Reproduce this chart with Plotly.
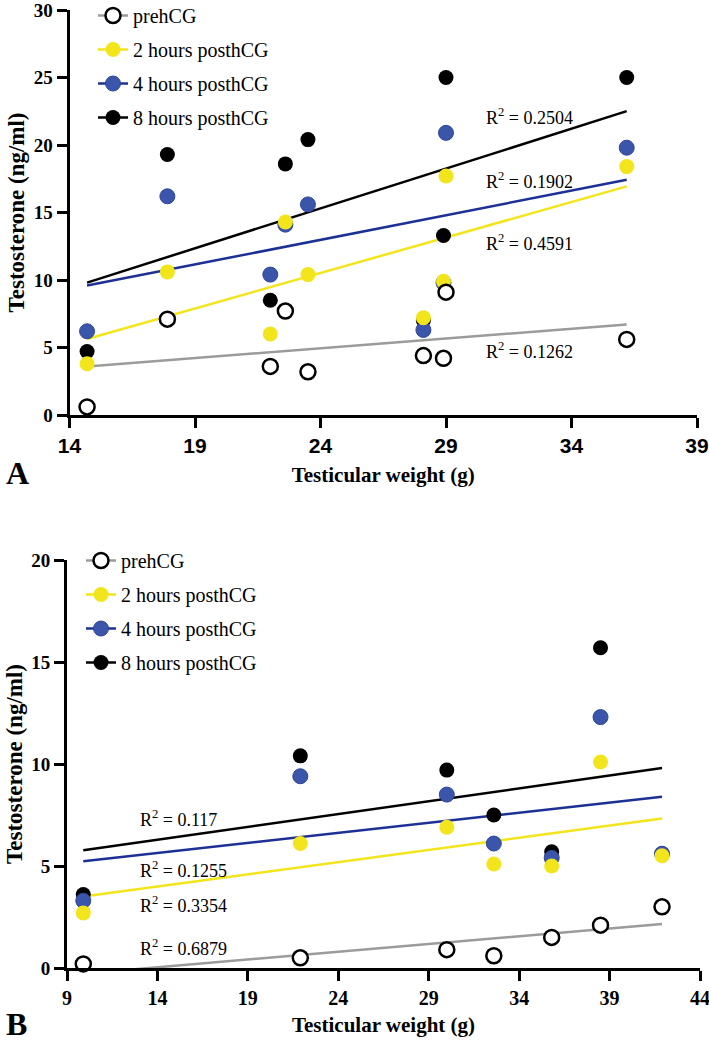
import numpy as np
import plotly.graph_objects as go

# ---------------- data ----------------
series_names = ["prehCG", "2 hours posthCG", "4 hours posthCG", "8 hours posthCG"]

# Panel A
a_weight = [14.7, 17.9, 22.0, 22.6, 23.5, 28.1, 28.9, 29.0, 36.2]
a_pre = [0.6, 7.1, 3.6, 7.7, 3.2, 4.4, 4.2, 9.1, 5.6]
a_h2 = [3.8, 10.6, 6.0, 14.3, 10.4, 7.2, 9.9, 17.7, 18.4]
a_h4 = [6.2, 16.2, 10.4, 14.1, 15.6, 6.3, 9.8, 20.9, 19.8]
a_h8 = [4.7, 19.3, 8.5, 18.6, 20.4, 7.0, 13.3, 25.0, 25.0]
a_r2 = ["0.1262", "0.4591", "0.1902", "0.2504"]

# Panel B
b_weight = [9.9, 21.9, 30.0, 32.6, 35.8, 38.5, 41.9]
b_pre = [0.2, 0.5, 0.9, 0.6, 1.5, 2.1, 3.0]
b_h2 = [2.7, 6.1, 6.9, 5.1, 5.0, 10.1, 5.5]
b_h4 = [3.3, 9.4, 8.5, 6.1, 5.4, 12.3, 5.6]
b_h8 = [3.6, 10.4, 9.7, 7.5, 5.7, 15.7, 5.6]
b_r2 = ["0.6879", "0.3354", "0.1255", "0.117"]

a_xticks = [14, 19, 24, 29, 34, 39]
b_xticks = [9, 14, 19, 24, 29, 34, 39, 44]

# ---------------- styles ----------------
SERIF = "Liberation Serif"
SANS = "Liberation Sans"
marker_fill = ["white", "#F3E51B", "#3A55AA", "black"]
marker_line = ["black", "#F3E51B", "#2E4698", "black"]
marker_lw = [2.5, 0, 1, 0]
fit_color = ["#9B9B9B", "#F3E51B", "#1C3095", "black"]
MS = 15

W, H = 709, 1043


def sx(a):
    return a / W


def sy(t):
    return 1 - t / H


def dom_x(a, b):
    return [sx(a), sx(b)]


def dom_y(top, bottom):
    return [sy(bottom), sy(top)]


fig = go.Figure()


def add_panel(xv, ys, xa, ya, legend, r2_texts, r2_x, r2_y):
    # regression lines (drawn first, below markers)
    for i, y in enumerate(ys):
        slope, icpt = np.polyfit(xv, y, 1)
        xl = np.array([min(xv), max(xv)])
        fig.add_trace(go.Scatter(
            x=xl, y=slope * xl + icpt, mode="lines",
            line=dict(color=fit_color[i], width=2.5),
            xaxis=xa, yaxis=ya, showlegend=False, hoverinfo="skip"))
    # data points: 8h, 4h, 2h, pre (pre on top)
    for i in [3, 2, 1, 0]:
        fig.add_trace(go.Scatter(
            x=xv, y=ys[i], mode="markers",
            marker=dict(size=MS, color=marker_fill[i],
                        line=dict(color=marker_line[i], width=marker_lw[i])),
            xaxis=xa, yaxis=ya, showlegend=False, cliponaxis=False,
            name=series_names[i]))
    # legend entries (line + marker)
    for i in range(4):
        fig.add_trace(go.Scatter(
            x=[None], y=[None], mode="lines+markers", name=series_names[i],
            marker=dict(size=MS, color=marker_fill[i],
                        line=dict(color=marker_line[i], width=marker_lw[i])),
            line=dict(color=fit_color[i], width=2.5),
            xaxis=xa, yaxis=ya, legend=legend, legendgroup=f"{legend}{i}",
            showlegend=True))
    # R^2 labels
    for t, yy in zip(r2_texts, r2_y):
        fig.add_annotation(x=r2_x, y=yy, xref=xa, yref=ya,
                           text=f"R<sup>2</sup> = {t}", showarrow=False,
                           xanchor="left", yanchor="middle",
                           font=dict(family=SERIF, size=18, color="black"))


add_panel(a_weight, [a_pre, a_h2, a_h4, a_h8], "x", "y", "legend",
          a_r2, 30.5, [4.8, 12.8, 17.4, 22.1])
add_panel(b_weight, [b_pre, b_h2, b_h4, b_h8], "x2", "y2", "legend2",
          b_r2, 12.9, [1.0, 3.1, 4.85, 7.35])

axis_common = dict(showline=True, linecolor="black", linewidth=3,
                   ticks="outside", ticklen=10, tickwidth=3, tickcolor="black",
                   showgrid=False, zeroline=False, mirror=False, automargin=False,
                   ticklabeloverflow="allow")

fig.update_layout(
    width=W, height=H,
    margin=dict(l=0, r=0, t=0, b=0, autoexpand=False),
    paper_bgcolor="white", plot_bgcolor="white",
    xaxis=dict(axis_common, domain=dom_x(69.5, 697), range=[14, 39],
               tickvals=a_xticks, anchor="y",
               tickfont=dict(family=SANS, size=21, color="black", weight="bold"),
               title=dict(text="Testicular weight (g)", standoff=12,
                          font=dict(family=SERIF, size=21, color="black", weight="bold"))),
    yaxis=dict(axis_common, domain=dom_y(10, 415), range=[0, 30], dtick=5,
               anchor="x",
               tickfont=dict(family=SERIF, size=19, color="black", weight="bold"),
               title=dict(text="Testosterone (ng/ml)", standoff=3,
                          font=dict(family=SERIF, size=23, color="black", weight="bold"))),
    xaxis2=dict(axis_common, domain=dom_x(67, 700), range=[9, 44],
                tickvals=b_xticks, anchor="y2",
                tickfont=dict(family=SERIF, size=20, color="black", weight="bold"),
                title=dict(text="Testicular weight (g)", standoff=10,
                           font=dict(family=SERIF, size=21, color="black", weight="bold"))),
    yaxis2=dict(axis_common, domain=dom_y(560, 968), range=[0, 20], dtick=5,
                anchor="x2",
                tickfont=dict(family=SERIF, size=19, color="black", weight="bold"),
                title=dict(text="Testosterone (ng/ml)", standoff=3,
                           font=dict(family=SERIF, size=23, color="black", weight="bold"))),
    legend=dict(x=sx(93), y=sy(-4), xanchor="left", yanchor="top",
                bgcolor="rgba(0,0,0,0)", tracegroupgap=5, traceorder="grouped",
                font=dict(family=SERIF, size=20, color="black")),
    legend2=dict(x=sx(81), y=sy(541), xanchor="left", yanchor="top",
                 bgcolor="rgba(0,0,0,0)", tracegroupgap=5, traceorder="grouped",
                 font=dict(family=SERIF, size=20, color="black")),
)

# panel letters
fig.add_annotation(x=sx(4), y=sy(473), xref="paper", yref="paper", text="A",
                   showarrow=False, xanchor="left", yanchor="middle",
                   font=dict(family=SERIF, size=32, color="black", weight="bold"))
fig.add_annotation(x=sx(4), y=sy(1024), xref="paper", yref="paper", text="B",
                   showarrow=False, xanchor="left", yanchor="middle",
                   font=dict(family=SERIF, size=32, color="black", weight="bold"))

# the page body has a default 8px margin; remove it so the figure fills the window
fig.write_html("out.html", config={"displayModeBar": False},
               post_script="document.body.style.margin='0';")
